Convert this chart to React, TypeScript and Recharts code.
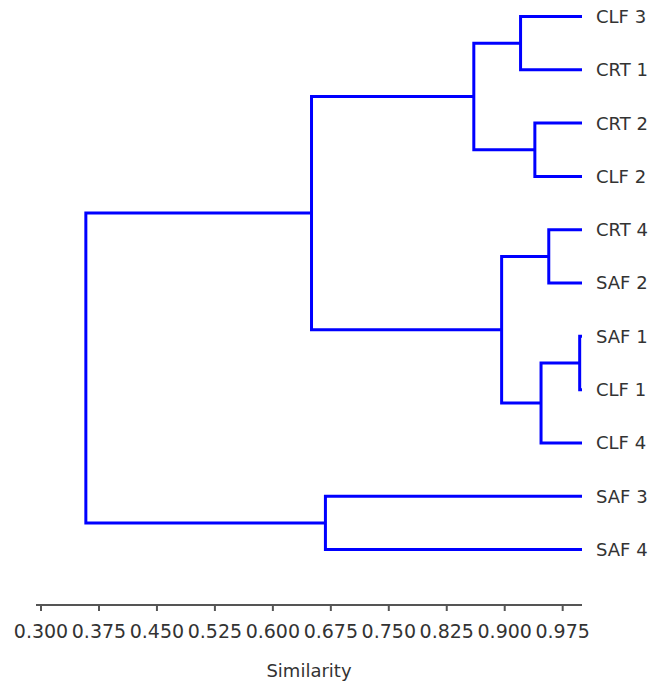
import { ScatterChart, Scatter, XAxis, YAxis, Label } from 'recharts';

// leaves, top to bottom
const leafLabels = ['CLF 3', 'CRT 1', 'CRT 2', 'CLF 2', 'CRT 4', 'SAF 2', 'SAF 1', 'CLF 1', 'CLF 4', 'SAF 3', 'SAF 4'];

// merge steps: [child A, child B, similarity]; ids >= 11 are earlier merges (11 = first row, ...)
const merges: [number, number, number][] = [
  [6, 7, 0.997],
  [0, 1, 0.9205],
  [2, 3, 0.939],
  [4, 5, 0.957],
  [11, 8, 0.947],
  [12, 13, 0.86],
  [14, 15, 0.896],
  [16, 17, 0.65],
  [9, 10, 0.668],
  [18, 19, 0.358],
];

const xTicks = [0.3, 0.375, 0.45, 0.525, 0.6, 0.675, 0.75, 0.825, 0.9, 0.975];

const leafSimilarity = 1.0;

type Pt = { x: number; y: number };

function buildBranches(): Pt[][] {
  const nodes: Pt[] = leafLabels.map((_, i) => ({ x: leafSimilarity, y: i }));
  const branches: Pt[][] = [];
  merges.forEach(([a, b, s]) => {
    const na = nodes[a];
    const nb = nodes[b];
    branches.push([
      { x: na.x, y: na.y },
      { x: s, y: na.y },
      { x: s, y: nb.y },
      { x: nb.x, y: nb.y },
    ]);
    nodes.push({ x: s, y: (na.y + nb.y) / 2 });
  });
  return branches;
}

const branches = buildBranches();
const textColor = '#333333';
const font = '"DejaVu Sans", sans-serif';

export default function App() {
  return (
    <div style={{ width: 655, height: 686, background: '#fff' }}>
      <style>{`body{margin:0}`}</style>
      <ScatterChart width={655} height={686} margin={{ top: 16.5, right: 0, bottom: 0, left: 36 }}>
        <XAxis
          type="number"
          dataKey="x"
          domain={[0.2935, 1.0]}
          ticks={xTicks}
          tickFormatter={(v: number) => v.toFixed(3)}
          height={81}
          tickSize={6}
          tickMargin={14}
          axisLine={{ stroke: '#555', strokeWidth: 2 }}
          tickLine={{ stroke: '#555', strokeWidth: 2 }}
          tick={{ fill: textColor, fontSize: 19, fontFamily: font }}
          interval={0}
        >
          <Label
            value="Similarity"
            position="insideBottom"
            offset={9}
            style={{ fill: textColor, fontSize: 18, fontFamily: font }}
          />
        </XAxis>
        <YAxis
          type="number"
          dataKey="y"
          orientation="right"
          reversed
          domain={[0, 11.04]}
          ticks={leafLabels.map((_, i) => i)}
          tickFormatter={(v: number) => leafLabels[v] ?? ''}
          width={73}
          axisLine={false}
          tickLine={false}
          tickSize={0}
          tickMargin={14}
          tick={{ fill: textColor, fontSize: 18, fontFamily: font }}
          interval={0}
        />
        {branches.map((pts, i) => (
          <Scatter
            key={i}
            data={pts}
            line={{ stroke: '#0000ff', strokeWidth: 3 }}
            lineType="joint"
            shape={() => <g />}
            isAnimationActive={false}
          />
        ))}
      </ScatterChart>
    </div>
  );
}
